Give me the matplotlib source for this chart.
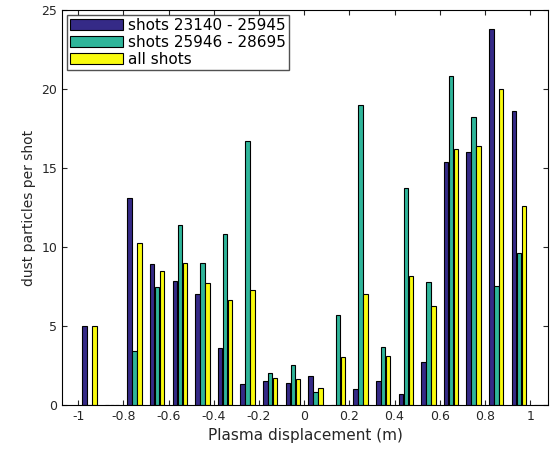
import matplotlib
matplotlib.use('Agg')
import matplotlib.pyplot as plt
import numpy as np

centers = [-0.95,-0.85,-0.75,-0.65,-0.55,-0.45,-0.35,-0.25,-0.15,-0.05,0.05,0.15,0.25,0.35,0.45,0.55,0.65,0.75,0.85,0.95,1.05]
blue = [5,0,13.1,8.9,7.85,7.0,3.6,1.35,1.5,1.4,1.85,0,1.0,1.5,0.7,2.75,15.4,16.0,23.8,18.6,0]
green = [0,0,3.4,7.45,11.4,9.0,10.8,16.7,2.0,2.5,0.8,5.7,19.0,3.65,13.75,7.8,20.8,18.2,7.5,9.6,0]
yellow = [5,0,10.25,8.5,9.0,7.7,6.65,7.3,1.7,1.65,1.05,3.05,7.0,3.1,8.15,6.25,16.2,16.4,20.0,12.6,0]
labels = ['shots 23140 - 25945','shots 25946 - 28695','all shots']
colors = ['#352a87','#2fb59a','#f9fb0e']

fig = plt.figure(figsize=(5.51,4.53), dpi=100)
ax = fig.add_axes([0.113,0.106,0.882,0.872])
x = np.array(centers)
w = 0.02
off = 0.022
for i,(vals,lab,c) in enumerate(zip([blue,green,yellow],labels,colors)):
    ax.bar(x+(i-1)*off, vals, width=w, color=c, edgecolor='black', linewidth=0.8, label=lab)
ax.set_xlim(-1.07,1.08)
ax.set_ylim(0,25)
ax.set_xticks(np.round(np.arange(-1,1.01,0.2),1))
ax.set_xticklabels(['-1','-0.8','-0.6','-0.4','-0.2','0','0.2','0.4','0.6','0.8','1'])
ax.set_yticks([0,5,10,15,20,25])
ax.tick_params(direction='in', top=True, right=True, labelsize=9, colors='#262626')
ax.set_xlabel('Plasma displacement (m)', fontsize=11, color='#262626')
ax.set_ylabel('dust particles per shot', fontsize=10, color='#262626')
leg = ax.legend(loc='upper left', fontsize=11, fancybox=False, edgecolor='#262626', borderaxespad=0.3, handlelength=3.5, handletextpad=0.3, labelspacing=0.15, borderpad=0.2)
fig.savefig('out.png', dpi=100)
